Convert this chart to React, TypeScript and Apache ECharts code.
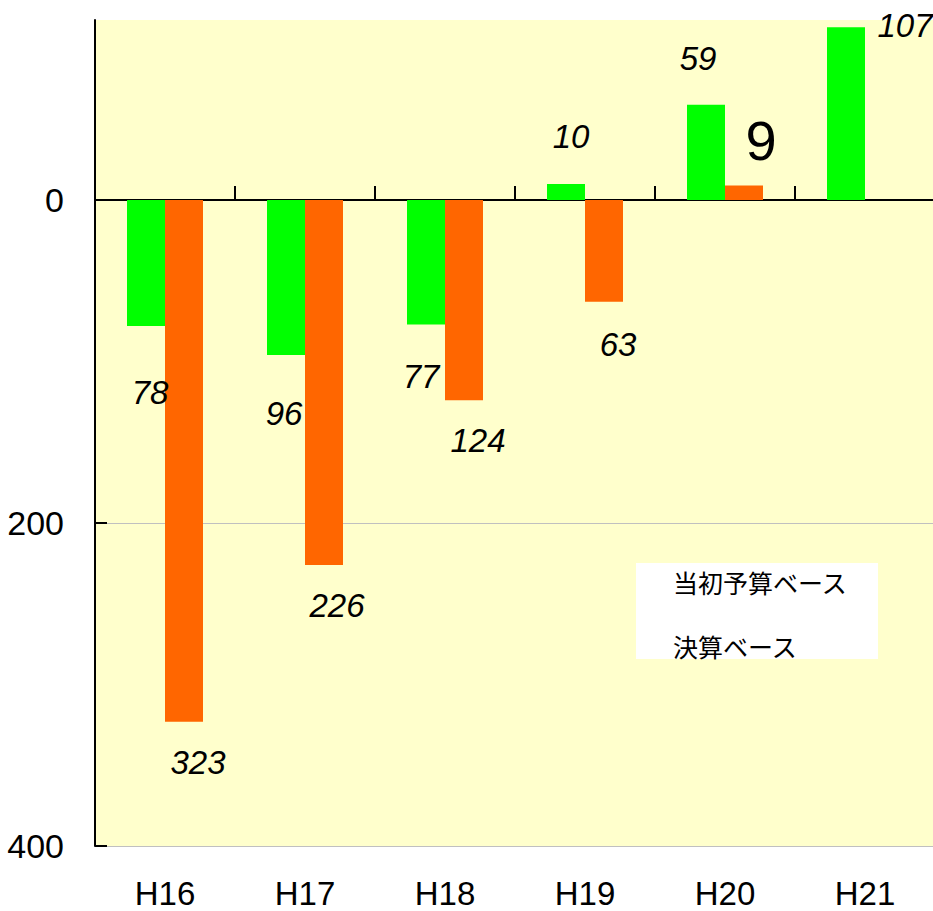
import { useEffect, useRef } from "react";
import * as echarts from "echarts";

// Fiscal years on the category axis
const categories = ["H16", "H17", "H18", "H19", "H20", "H21"];
// Series names shown in the legend
const seriesNames = ["当初予算ベース", "決算ベース"];
// Balance per year (shortfalls are negative and drawn below the zero line)
const initialBudgetValues: (number | null)[] = [-78, -96, -77, 10, 59, 107];
const settlementValues: (number | null)[] = [-323, -226, -124, -63, 9, null];
// Value-axis tick positions
const valueTicks = [-400, -200, 0];

// Per-bar label nudges in pixels, [dx, dy]
const initialLabelOffsets = [
  [4, 45],
  [-2, 37],
  [-5, 31],
  [5, -26],
  [-8, -25],
  [59, 20],
];
const settlementLabelOffsets = [
  [14, 19],
  [13, 19],
  [14, 19],
  [14, 21],
  [17, -12],
  [0, 0],
];
// The settlement figure for H20 is set larger and upright
const settlementLabelStyles: Record<number, { fontSize: number; fontStyle: string }> = {
  4: { fontSize: 56, fontStyle: "normal" },
};

const NUM_FONT = '"Liberation Sans", Arial, sans-serif';
const JP_FONT = '"Noto Sans CJK JP", "Noto Sans CJK SC", sans-serif';

const GREEN = "#00FF00";
const ORANGE = "#FF6600";

function buildBarData(
  values: (number | null)[],
  offsets: number[][],
  styles: Record<number, { fontSize: number; fontStyle: string }> = {}
) {
  return values.map((v, i) => {
    if (v === null) return "-";
    return {
      value: v,
      label: {
        position: v >= 0 ? "top" : "bottom",
        offset: offsets[i],
        ...(styles[i] || {}),
      },
    };
  });
}

export default function App() {
  const ref = useRef<HTMLDivElement>(null);

  useEffect(() => {
    if (!ref.current) return;
    const chart = echarts.init(ref.current, null, { renderer: "svg" });

    const barLabel = {
      show: true,
      color: "#000",
      fontFamily: NUM_FONT,
      fontSize: 33,
      fontStyle: "italic",
      formatter: (p: any) => String(Math.abs(Number(p.value))),
    };

    chart.setOption({
      animation: false,
      backgroundColor: "#ffffff",
      grid: {
        left: 95,
        top: 20,
        width: 840,
        height: 826,
        outerBoundsMode: "none",
        containLabel: false,
        show: true,
        backgroundColor: "#FFFFCC",
        borderWidth: 0,
      },
      legend: {
        data: seriesNames,
        orient: "vertical",
        left: 636,
        top: 563,
        icon: "none",
        itemWidth: 24,
        itemHeight: 14,
        itemGap: 39,
        padding: [6, 30, 1, 8],
        backgroundColor: "#ffffff",
        selectedMode: false,
        textStyle: {
          fontFamily: JP_FONT,
          fontSize: 25,
          color: "#000",
        },
      },
      xAxis: [
        {
          // axis drawn through zero, ticks at category boundaries
          type: "category",
          data: categories,
          position: "bottom",
          axisLine: { show: true, onZero: true, lineStyle: { color: "#000", width: 2 } },
          axisTick: { show: true, inside: true, length: 14, lineStyle: { color: "#000", width: 2 } },
          axisLabel: { show: false },
          splitLine: { show: false },
        },
        {
          // category names along the bottom edge
          type: "category",
          data: categories,
          position: "bottom",
          axisLine: { show: false, onZero: false },
          axisTick: { show: false },
          axisLabel: {
            show: true,
            color: "#000",
            fontFamily: NUM_FONT,
            fontSize: 33,
            margin: 31,
          },
          splitLine: { show: false },
        },
      ],
      yAxis: {
        type: "value",
        min: -400,
        max: 111.5,
        interval: 200,
        axisLine: { show: true, lineStyle: { color: "#000", width: 2 } },
        axisTick: {
          show: true,
          inside: true,
          length: 12,
          customValues: valueTicks,
          lineStyle: { color: "#000", width: 2 },
        },
        axisLabel: {
          customValues: valueTicks,
          formatter: (v: number) => String(Math.abs(v)),
          color: "#000",
          fontFamily: NUM_FONT,
          fontSize: 34,
          margin: 31,
          padding: [8, 0, 0, 0],
        },
        splitLine: { show: true, lineStyle: { color: "#c0c0c0", width: 1 } },
      },
      series: [
        {
          name: seriesNames[0],
          type: "bar",
          xAxisIndex: 0,
          barWidth: 38,
          barGap: "0%",
          itemStyle: { color: GREEN },
          label: barLabel,
          data: buildBarData(initialBudgetValues, initialLabelOffsets),
        },
        {
          name: seriesNames[1],
          type: "bar",
          xAxisIndex: 0,
          barWidth: 38,
          barGap: "0%",
          itemStyle: { color: ORANGE },
          label: barLabel,
          data: buildBarData(settlementValues, settlementLabelOffsets, settlementLabelStyles),
        },
      ],
    });

    return () => chart.dispose();
  }, []);

  return (
    <div
      ref={ref}
      style={{ position: "absolute", left: 0, top: 0, width: 933, height: 911, background: "#fff" }}
    />
  );
}
